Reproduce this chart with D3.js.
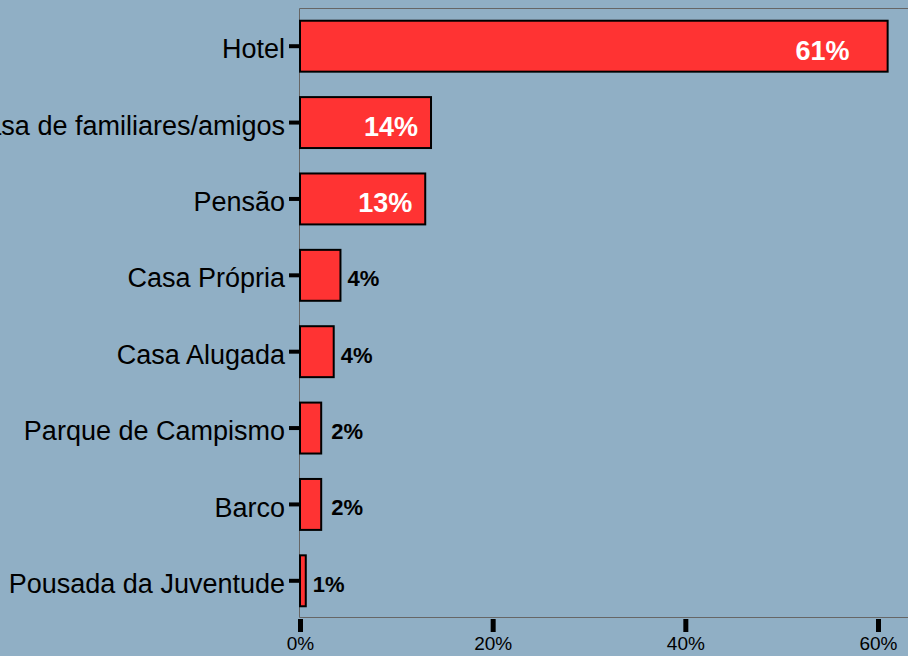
<!DOCTYPE html>
<html>
<head>
<meta charset="utf-8">
<script src="https://cdn.jsdelivr.net/npm/d3@7"></script>
<style>
  html, body { margin: 0; padding: 0; background: #90afc5; }
  svg { display: block; font-family: "Liberation Sans", Arial, sans-serif; }
</style>
</head>
<body>
<svg id="chart"></svg>
<script>
// categories, top to bottom
var categories = ["Hotel", "Casa de familiares/amigos", "Pensão", "Casa Própria",
  "Casa Alugada", "Parque de Campismo", "Barco", "Pousada da Juventude"];
// shares
var shares = [0.61, 0.136, 0.13, 0.042, 0.035, 0.022, 0.022, 0.006];
// printed labels
var valueLabels = ["61%", "14%", "13%", "4%", "4%", "2%", "2%", "1%"];
var xTicks = [0, 0.2, 0.4, 0.6];

var width = 908, height = 656;
var plotLeft = 300, plotTop = 8, plotBottom = 619;

var svg = d3.select("#chart")
  .attr("width", width)
  .attr("height", height);

svg.append("rect")
  .attr("width", width).attr("height", height)
  .attr("fill", "#90afc5");

var x = d3.scaleLinear().domain([0, 0.6]).range([plotLeft, 878]);
var y = d3.scaleBand()
  .domain(categories)
  .range([plotTop, plotBottom])
  .paddingInner(0.333)
  .paddingOuter(0.1667);

//frame of the plot area
svg.append("path")
  .attr("d", "M" + (width + 2) + "," + (plotTop + 0.5) + "H" + (plotLeft - 0.5) + "V" + (plotBottom - 1.5) + "H" + (width + 2))
  .attr("fill", "none")
  .attr("stroke", "#666")
  .attr("stroke-width", 1);

var data = categories.map(function (c, i) {
  return { name: c, value: shares[i], label: valueLabels[i] };
});

svg.selectAll(".bar")
  .data(data)
  .enter()
  .append("rect")
  .attr("class", "bar")
  .attr("x", x(0))
  .attr("y", function (d) { return y(d.name); })
  .attr("width", function (d) { return x(d.value) - x(0); })
  .attr("height", y.bandwidth())
  .attr("fill", "#ff3333")
  .attr("stroke", "#000")
  .attr("stroke-width", 2);

// value labels: white inside the long bars, black outside the short ones
svg.selectAll(".val")
  .data(data)
  .enter()
  .append("text")
  .attr("class", "val")
  .attr("x", function (d) {
    var w = x(d.value) - x(0);
    if (d.value > 0.1) return x(d.value) - Math.max(13, w * 0.065);
    return x(d.value) + (d.value < 0.03 && d.value > 0.01 ? 10 : 7);
  })
  .attr("y", function (d) { return y(d.name) + y.bandwidth() / 2; })
  .attr("dy", "0.5em")
  .attr("text-anchor", function (d) { return d.value > 0.1 ? "end" : "start"; })
  .attr("font-weight", "bold")
  .attr("font-size", function (d) { return d.value > 0.1 ? "27px" : "22px"; })
  .attr("fill", function (d) { return d.value > 0.1 ? "#fff" : "#000"; })
  .text(function (d) { return d.label; });

// y axis
var yAxis = d3.axisLeft(y).tickSize(10).tickPadding(4);
var gy = svg.append("g")
  .attr("transform", "translate(" + (plotLeft - 1) + ",0)")
  .call(yAxis);
gy.select(".domain").remove();
gy.selectAll("line").attr("stroke", "#000").attr("stroke-width", 4);
gy.selectAll("text")
  .attr("dy", "0.45em")
  .attr("font-size", "27px")
  .attr("font-family", "Liberation Sans, Arial, sans-serif")
  .attr("fill", "#000");

// x axis
var xAxis = d3.axisBottom(x).tickValues(xTicks).tickSize(13).tickPadding(5)
  .tickFormat(d3.format(".0%"));
var gx = svg.append("g")
  .attr("transform", "translate(0," + plotBottom + ")")
  .call(xAxis);
gx.select(".domain").remove();
gx.selectAll("line").attr("stroke", "#000").attr("stroke-width", 5);
gx.selectAll("text")
  .attr("font-size", "19px")
  .attr("font-family", "Liberation Sans, Arial, sans-serif")
  .attr("fill", "#000");
</script>
</body>
</html>
